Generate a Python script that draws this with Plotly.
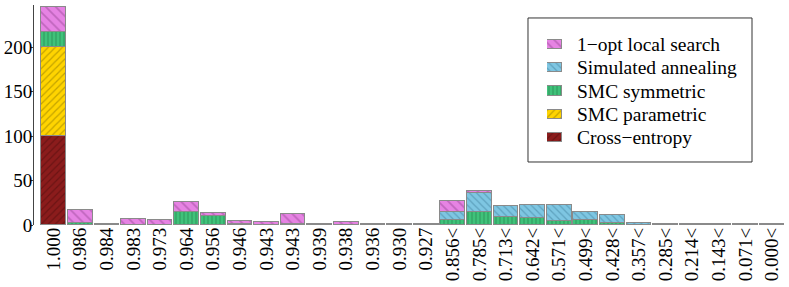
import plotly.graph_objects as go

labels = ["1.000", "0.986", "0.984", "0.983", "0.973", "0.964", "0.956", "0.946",
          "0.943", "0.943", "0.939", "0.938", "0.936", "0.930", "0.927",
          "0.856<", "0.785<", "0.713<", "0.642<", "0.571<", "0.499<", "0.428<",
          "0.357<", "0.285<", "0.214<", "0.143<", "0.071<", "0.000<"]

cross_entropy = [100, 0, 0, 0, 0, 0, 0, 0, 0, 0, 0, 0, 0, 0, 0,
                 0, 0, 0, 0, 0, 0, 0, 0, 0, 0, 0, 0, 0]
smc_parametric = [100, 0, 0, 0, 0, 0, 0, 0, 0, 0, 0, 0, 0, 0, 0,
                  0, 0, 0, 0, 0, 0, 0, 0, 0, 0, 0, 0, 0]
smc_symmetric = [17, 2, 0, 0, 0, 15, 10, 1, 0, 1, 0, 0, 0, 0, 0,
                 6, 15, 9, 8, 5, 6, 2, 0, 0, 0, 1, 0, 1]
sim_annealing = [0, 0, 1, 0, 0, 0, 0, 0, 0, 0, 1, 0, 1, 0, 0,
                 9, 21, 12, 14, 17, 9, 9, 2, 1, 0, 0, 0, 0]
one_opt = [28, 15, 0, 7, 6, 11, 3, 4, 3, 11, 0, 3, 0, 1, 1,
           12, 2, 0, 0, 0, 0, 0, 0, 0, 1, 0, 1, 0]

series_names = ["Cross\u2212entropy", "SMC parametric", "SMC symmetric",
                "Simulated annealing", "1\u2212opt local search"]
series_values = [cross_entropy, smc_parametric, smc_symmetric, sim_annealing, one_opt]

styles = [
    ("#8b1c1c", "#4e0c0c", "/", 5),
    ("#ffd400", "#8a7300", "/", 5),
    ("#3fc27a", "#1d6b40", "|", 4),
    ("#7ec6e2", "#3f7f9c", "\\", 5),
    ("#e683e3", "#9a4a98", "\\", 7),
]

xs = list(range(len(labels)))
FONT = "Liberation Serif, Times New Roman, serif"

fig = go.Figure()
for name, vals, (col, fg, shape, size) in zip(series_names, series_values, styles):
    pat = dict(shape=shape, fgcolor=fg, size=size, solidity=0.25, fillmode="overlay")
    fig.add_trace(go.Bar(
        x=xs, y=vals, name=name, width=0.93, showlegend=False,
        marker=dict(color=col, line=dict(color="#8a8a8a", width=1), pattern=pat),
    ))
    # legend swatch (drawn on its own small axis pair)
    fig.add_trace(go.Bar(
        x=[1], y=[name], orientation="h", width=0.4, showlegend=False,
        xaxis="x2", yaxis="y2", hoverinfo="skip",
        marker=dict(color=col, line=dict(color="#8a8a8a", width=1), pattern=pat),
    ))

fig.update_layout(
    width=789, height=287,
    barmode="stack", bargap=0,
    margin=dict(l=34, r=0, t=5, b=62),
    plot_bgcolor="white", paper_bgcolor="white",
    font=dict(family=FONT, size=19, color="black"),
    showlegend=False,
    xaxis=dict(range=[-0.74, 27.64], tickmode="array", tickvals=xs, ticktext=labels,
               tickangle=-90, showline=False, ticks="", showgrid=False, zeroline=False,
               automargin=False, ticklabelstandoff=-2,
               tickfont=dict(family=FONT, size=19, color="black")),
    yaxis=dict(range=[0, 247.2], tickvals=[0, 50, 100, 150, 200], showline=True,
               linecolor="#444444", linewidth=1, ticks="outside", ticklen=3,
               tickcolor="#444444", showgrid=False, zeroline=False, automargin=False,
               ticklabelstandoff=-6,
               tickfont=dict(family=FONT, size=19, color="black")),
    xaxis2=dict(domain=[0.6795, 0.6993], range=[0, 1], anchor="y2", visible=False,
                fixedrange=True),
    yaxis2=dict(domain=[0.347, 0.874], anchor="x2", side="right", type="category",
                categoryorder="array", categoryarray=series_names,
                range=[-0.5, 4.5], showline=False, ticks="", showgrid=False,
                zeroline=False, automargin=False, ticklabelstandoff=14,
                tickfont=dict(family=FONT, size=19.5, color="black")),
    shapes=[dict(type="rect", xref="paper", yref="paper",
                 x0=0.6543, x1=0.951, y0=0.2864, y1=0.941,
                 line=dict(color="#333333", width=1), fillcolor="white", layer="below")],
)

fig.write_html("out.html",
               config={"displayModeBar": False},
               post_script="document.body.style.margin='0';document.body.style.overflow='hidden';")
